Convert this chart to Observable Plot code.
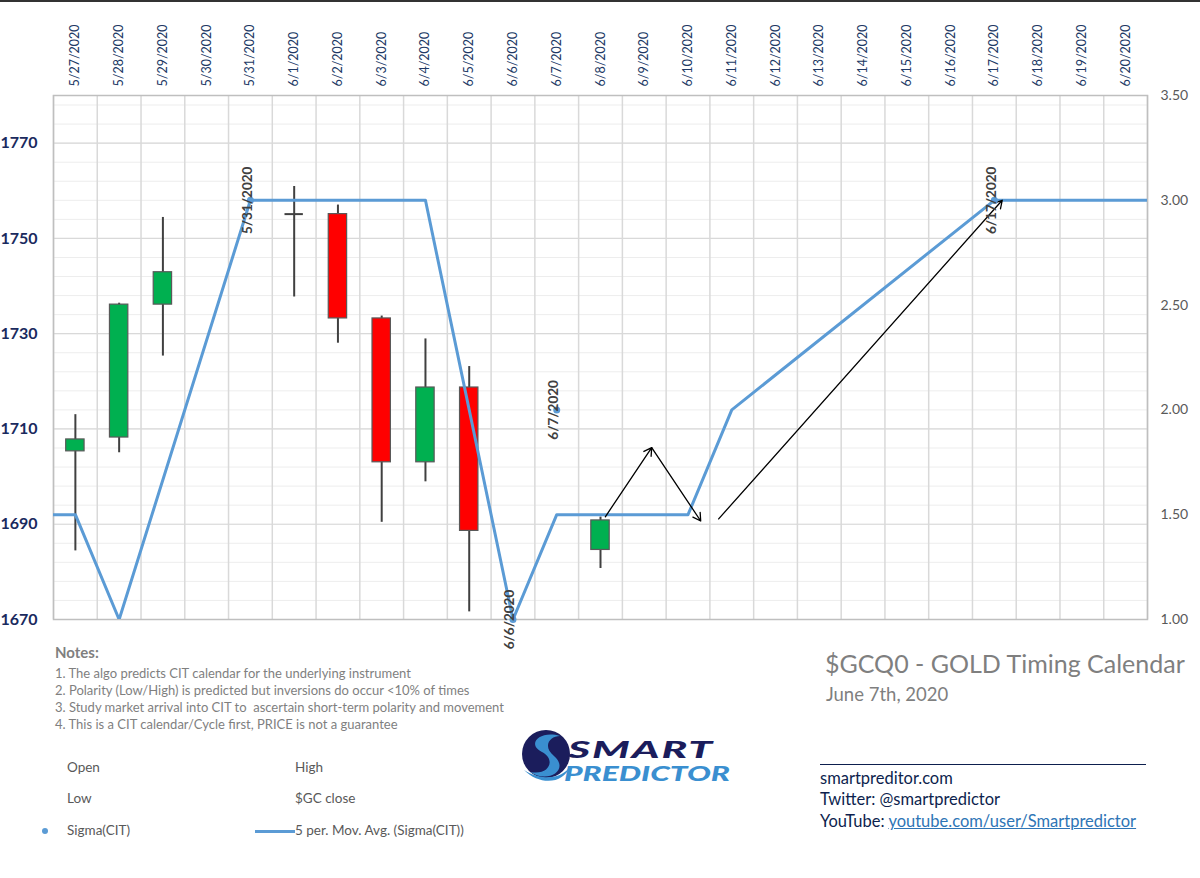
<!DOCTYPE html>
<html>
<head>
<meta charset="utf-8">
<script src="https://cdn.jsdelivr.net/npm/d3@7"></script>
<script src="https://cdn.jsdelivr.net/npm/@observablehq/plot@0.6"></script>
<style>
  html, body { margin: 0; padding: 0; background: #fff; }
  #page { position: relative; width: 1200px; height: 878px; overflow: hidden; font-family: Lato, "Open Sans", sans-serif; border-top: 2px solid #333; box-sizing: border-box; }
  #chart { position: absolute; left: 0; top: -2px; }
  .abs { position: absolute; white-space: nowrap; line-height: 1; }
  .note { color: #7f7f7f; font-size: 13px; }
  .leg { color: #595959; font-size: 13.5px; }
  .contact { color: #0d1f4e; font-size: 16.5px; }
</style>
</head>
<body>
<div id="page">
  <div id="chart"></div>

  <div class="abs note" style="left:55px; top:643px; font-size:15px; font-weight:bold;">Notes:</div>
  <div class="abs note" style="left:55px; top:665px;">1. The algo predicts CIT calendar for the underlying instrument</div>
  <div class="abs note" style="left:55px; top:682px;">2. Polarity (Low/High) is predicted but inversions do occur &lt;10% of times</div>
  <div class="abs note" style="left:55px; top:699px;">3. Study market arrival into CIT to&nbsp; ascertain short-term polarity and movement</div>
  <div class="abs note" style="left:55px; top:716px;">4. This is a CIT calendar/Cycle first, PRICE is not a guarantee</div>

  <div class="abs leg" style="left:67px; top:759px;">Open</div>
  <div class="abs leg" style="left:295px; top:759px;">High</div>
  <div class="abs leg" style="left:67px; top:790px;">Low</div>
  <div class="abs leg" style="left:295px; top:790px;">$GC close</div>
  <div class="abs" style="left:42px; top:826px; width:6px; height:6px; border-radius:50%; background:#5b9bd5;"></div>
  <div class="abs leg" style="left:67px; top:822px;">Sigma(CIT)</div>
  <div class="abs" style="left:255px; top:828px; width:40px; height:3px; background:#5b9bd5;"></div>
  <div class="abs leg" style="left:295px; top:822px;">5 per. Mov. Avg. (Sigma(CIT))</div>

  <!-- logo -->
  <svg class="abs" style="left:520px; top:724px;" width="215" height="62" viewBox="0 0 215 62">
    <circle cx="26" cy="28" r="24" fill="#1b1d5c"/>
    <path d="M40 10 C20 4, 6 18, 22 26 C36 33, 30 50, 10 46 C28 58, 50 44, 34 30 C22 20, 30 10, 40 10 Z" fill="#3a8fd0"/>
    <path d="M4 44 C20 60, 44 58, 50 40 C44 52, 22 56, 4 44 Z" fill="#3a8fd0"/>
    <text x="48" y="32" font-family="Lato, sans-serif" font-weight="900" font-style="italic" font-size="23" fill="#1b1d5c" letter-spacing="1" textLength="146" lengthAdjust="spacingAndGlyphs">SMART</text>
    <text x="44" y="55" font-family="Lato, sans-serif" font-weight="900" font-style="italic" font-size="20" fill="#3a8fd0" textLength="166" lengthAdjust="spacingAndGlyphs">PREDICTOR</text>
  </svg>

  <div class="abs" style="left:825px; top:649px; font-size:25px; color:#7f7f7f;">$GCQ0 - GOLD Timing Calendar</div>
  <div class="abs" style="left:826px; top:683px; font-size:18.5px; color:#7f7f7f;">June 7th, 2020</div>
  <div class="abs" style="left:820px; top:762px; width:326px; height:1px; background:#0d1f4e;"></div>
  <div class="abs contact" style="left:820px; top:768px;">smartpreditor.com</div>
  <div class="abs contact" style="left:820px; top:789px;">Twitter: @smartpredictor</div>
  <div class="abs contact" style="left:820px; top:811px;">YouTube: <span style="color:#2e75b6; text-decoration:underline;">youtube.com/user/Smartpredictor</span></div>
</div>

<script>
// ---- categories (top axis) ----
const dates = ["5/27/2020","5/28/2020","5/29/2020","5/30/2020","5/31/2020","6/1/2020","6/2/2020","6/3/2020","6/4/2020","6/5/2020","6/6/2020","6/7/2020","6/8/2020","6/9/2020","6/10/2020","6/11/2020","6/12/2020","6/13/2020","6/14/2020","6/15/2020","6/16/2020","6/17/2020","6/18/2020","6/19/2020","6/20/2020"];

// ---- axes ----
const leftDomain = [1670, 1780];
const leftTicks = [1670, 1690, 1710, 1730, 1750, 1770];
const rightDomain = [1, 3.5];
const rightTicks = [1.0, 1.5, 2.0, 2.5, 3.0, 3.5];

// ---- $GC candles ----
const candleDates = ["5/27/2020","5/28/2020","5/29/2020","6/1/2020","6/2/2020","6/3/2020","6/4/2020","6/5/2020","6/8/2020"];
const openP  = [1705.3, 1708.2, 1736.1, 1755.1, 1755.1, 1733.2, 1703.0, 1718.7, 1684.6];
const highP  = [1713.0, 1736.4, 1754.4, 1760.9, 1757.0, 1733.7, 1728.9, 1723.1, 1691.5];
const lowP   = [1684.4, 1705.0, 1725.3, 1737.7, 1728.0, 1690.4, 1698.9, 1671.6, 1680.7];
const closeP = [1707.8, 1736.1, 1742.9, 1755.1, 1733.2, 1703.0, 1718.7, 1688.6, 1690.8];

// ---- Sigma(CIT) points ----
const citDates  = ["5/31/2020","6/6/2020","6/7/2020","6/17/2020"];
const citValues = [3.0, 1.0, 2.0, 3.0];

// ---- 5 per. Mov. Avg. (Sigma(CIT)) ----
const maDates  = ["5/26/2020","5/27/2020","5/28/2020","5/31/2020","6/4/2020","6/6/2020","6/7/2020","6/10/2020","6/11/2020","6/17/2020","6/21/2020"];
const maValues = [1.5, 1.5, 1.0, 3.0, 3.0, 1.0, 1.5, 1.5, 2.0, 3.0, 3.0];

// ---- hand-drawn arrows (date position, Sigma value) ----
const arrowX1 = [12.11, 13.17, 14.70];
const arrowY1 = [1.49, 1.82, 1.48];
const arrowX2 = [13.17, 14.29, 21.18];
const arrowY2 = [1.82, 1.47, 3.0];

const parse = d3.timeParse("%-m/%-d/%Y");
const t0 = parse(dates[0]);
const idx = s => d3.timeDay.count(t0, parse(s));
const k = (leftDomain[1] - leftDomain[0]) / (rightDomain[1] - rightDomain[0]);
const toLeft = v => leftDomain[0] + (v - rightDomain[0]) * k;
const toRight = y => rightDomain[0] + (y - leftDomain[0]) / k;

const candles = candleDates.map((d, i) => ({d, i: idx(d), o: openP[i], h: highP[i], l: lowP[i], c: closeP[i]}));
const minorY = d3.range(leftDomain[0], leftDomain[1] + 0.01, 4);
const edges = d3.range(-0.5, dates.length, 1);
const halfW = 0.21;

const chart = Plot.plot({
  width: 1200,
  height: 660,
  marginTop: 95,
  marginBottom: 41,
  marginLeft: 53,
  marginRight: 53,
  style: {fontFamily: "Lato, 'Open Sans', sans-serif", background: "transparent", overflow: "visible"},
  x: {type: "linear", domain: [-0.5, dates.length - 0.5]},
  y: {domain: leftDomain},
  marks: [
    Plot.ruleY(minorY, {stroke: "#ededed", strokeWidth: 1}),
    Plot.ruleY(leftTicks, {stroke: "#d9d9d9", strokeWidth: 1.2}),
    Plot.ruleX(edges, {stroke: "#d9d9d9", strokeWidth: 1.5}),
    Plot.frame({stroke: "#bfbfbf", strokeWidth: 1.5}),
    Plot.axisX(d3.range(dates.length), {anchor: "top", tickFormat: i => dates[i], tickRotate: -90, tickSize: 0, tickPadding: 9, fill: "#203864", fontSize: 12.5, label: null}),
    Plot.axisY(leftTicks, {anchor: "left", tickSize: 0, tickPadding: 16, fontSize: 16, fontWeight: "bold", fill: "#1a2a5e", tickFormat: d => String(d), label: null}),
    Plot.axisY(rightTicks.map(toLeft), {anchor: "right", tickSize: 0, tickPadding: 13, fontSize: 14, fill: "#595959", tickFormat: y => toRight(y).toFixed(2), label: null}),
    // wicks
    Plot.ruleX(candles, {x: "i", y1: "l", y2: "h", stroke: "#404040", strokeWidth: 2}),
    // open = close tick (doji)
    Plot.ruleY(candles.filter(c => c.o === c.c), {y: "o", x1: c => c.i - halfW, x2: c => c.i + halfW, stroke: "#404040", strokeWidth: 2}),
    // bodies
    Plot.rect(candles.filter(c => c.o !== c.c), {x1: c => c.i - halfW, x2: c => c.i + halfW, y1: "o", y2: "c", fill: c => c.c > c.o ? "#00b050" : "#ff0000", stroke: "#595959", strokeWidth: 1.2}),
    // moving average
    Plot.line(maDates, {x: idx, y: (d, i) => toLeft(maValues[i]), stroke: "#5b9bd5", strokeWidth: 3, clip: true}),
    // arrows
    Plot.arrow(arrowX1, {x1: d => d, y1: (d, i) => toLeft(arrowY1[i]), x2: (d, i) => arrowX2[i], y2: (d, i) => toLeft(arrowY2[i]), stroke: "#000", strokeWidth: 1.3, headLength: 10, bend: 0}),
    // Sigma(CIT) points & labels
    Plot.dot(citDates, {x: idx, y: (d, i) => toLeft(citValues[i]), r: 3.5, fill: "#5b9bd5"}),
    Plot.text(citDates, {x: idx, y: (d, i) => toLeft(citValues[i]), text: d => d, rotate: -90, fontSize: 13.5, fontWeight: "bold", fill: "#404040", dx: -3})
  ]
});
document.getElementById("chart").appendChild(chart);
</script>
</body>
</html>
